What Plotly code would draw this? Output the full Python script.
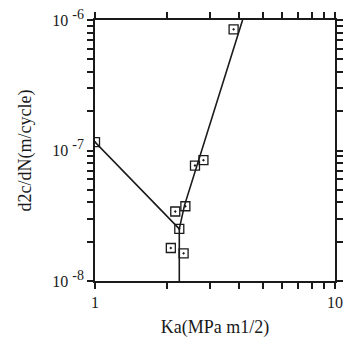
import plotly.graph_objects as go

# measured points
ka = [1.0, 2.07, 2.16, 2.245, 2.34, 2.38, 2.61, 2.83, 3.78]
rate = [1.16e-7, 1.79e-8, 3.41e-8, 2.51e-8, 1.63e-8, 3.74e-8, 7.67e-8, 8.43e-8, 8.48e-7]

# fitted lines
fit_ka = [1.0, 2.245, 2.36, 4.12]
fit_rate = [1.16e-7, 2.51e-8, 3.8e-8, 1e-6]
vert_ka = [2.245, 2.245]
vert_rate = [2.51e-8, 1e-8]

x_ticks = [1, 2, 3, 4, 5, 6, 7, 8, 9, 10]
x_tick_text = ["1", "", "", "", "", "", "", "", "", "10"]
y_ticks = [1e-8, 2e-8, 3e-8, 4e-8, 5e-8, 6e-8, 7e-8, 8e-8, 9e-8,
           1e-7, 2e-7, 3e-7, 4e-7, 5e-7, 6e-7, 7e-7, 8e-7, 9e-7, 1e-6]
y_tick_text = ["10 <sup><span style='font-size:14px'>-8</span></sup>",
               "", "", "", "", "", "", "", "",
               "10 <sup><span style='font-size:14px'>-7</span></sup>",
               "", "", "", "", "", "", "", "",
               "10 <sup><span style='font-size:14px'>-6</span></sup>"]

font = "Liberation Serif"
ink = "#1a1a1a"

fig = go.Figure()
fig.add_trace(go.Scatter(x=fit_ka, y=fit_rate, mode="lines",
                         line=dict(color=ink, width=1.6), showlegend=False))
fig.add_trace(go.Scatter(x=vert_ka, y=vert_rate, mode="lines",
                         line=dict(color=ink, width=1.6), showlegend=False))
fig.add_trace(go.Scatter(x=ka, y=rate, mode="markers",
                         marker=dict(symbol="square-open-dot", size=9,
                                     color=ink, line=dict(width=1.3)),
                         showlegend=False))

fig.update_layout(
    width=355, height=340,
    margin=dict(l=95, r=20, t=20, b=59),
    paper_bgcolor="white", plot_bgcolor="white",
    font=dict(family=font, color=ink, size=14),
)
fig.update_xaxes(
    type="log", range=[0, 1], automargin=False,
    tickmode="array", tickvals=x_ticks, ticktext=x_tick_text,
    ticks="outside", ticklen=6, tickwidth=1.5, tickcolor=ink,
    showline=True, linecolor=ink, linewidth=1.7, mirror="allticks",
    showgrid=False, zeroline=False,
    tickfont=dict(size=16),
    title=dict(text="Ka(MPa m1/2)", font=dict(size=18), standoff=10),
)
fig.update_yaxes(
    type="log", range=[-8, -6], automargin=False,
    tickmode="array", tickvals=y_ticks, ticktext=y_tick_text,
    ticks="outside", ticklen=6, tickwidth=1.5, tickcolor=ink,
    showline=True, linecolor=ink, linewidth=1.7, mirror="allticks",
    showgrid=False, zeroline=False,
    tickfont=dict(size=16),
    title=dict(text="d2c/dN(m/cycle)", font=dict(size=18), standoff=16),
)

fig.write_html("out.html", config={"displayModeBar": False},
               post_script="document.body.style.margin='0';")
